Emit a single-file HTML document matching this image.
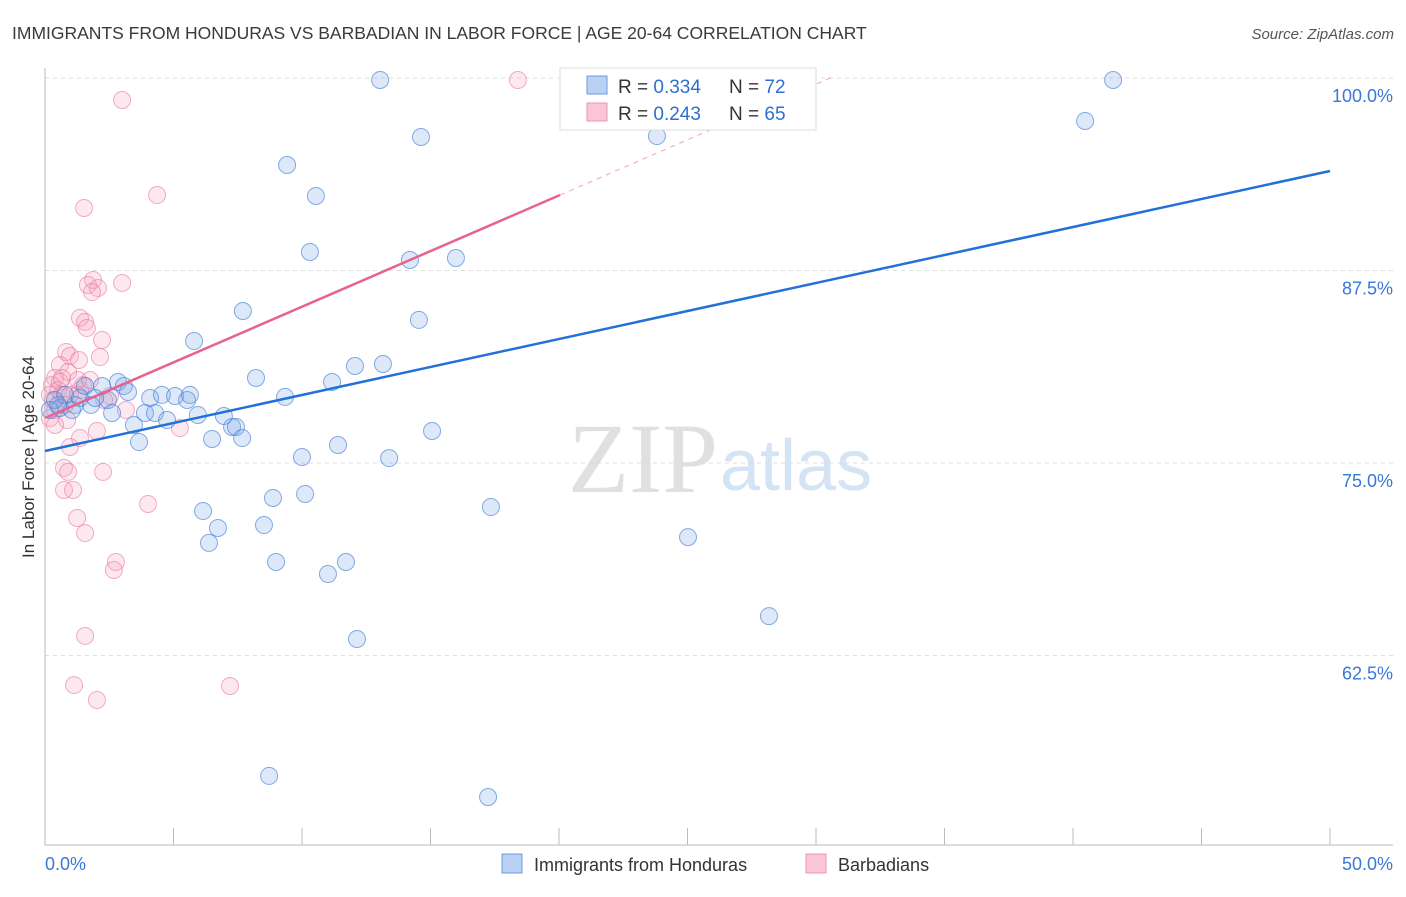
<!DOCTYPE html>
<html><head><meta charset="utf-8"><style>
body{margin:0;background:#fff;font-family:"Liberation Sans",sans-serif;}
svg text{font-family:"Liberation Sans",sans-serif;}
</style></head><body>
<svg id="chart" width="1406" height="892">
<text x="12" y="39" font-size="17.5" fill="#3a3a3a">IMMIGRANTS FROM HONDURAS VS BARBADIAN IN LABOR FORCE | AGE 20-64 CORRELATION CHART</text>
<text x="1394" y="39" font-size="15" fill="#555" text-anchor="end" font-style="italic">Source: ZipAtlas.com</text>
<text x="0" y="0" transform="translate(34,457) rotate(-90)" font-size="17" fill="#333" text-anchor="middle">In Labor Force | Age 20-64</text>
<text x="718" y="492" font-size="100" fill="#e0e0e0" text-anchor="end" style="font-family:'Liberation Serif',serif">ZIP</text>
<text x="720" y="490" font-size="72" fill="#d5e4f5">atlas</text>
<g id="grid"></g><g id="axes"></g><g id="pts"></g><g id="lines"></g>
<g>
<rect x="560" y="68" width="256" height="62" fill="#fff" stroke="#ddd"/>
<rect x="587" y="76" width="20" height="18" fill="#b9d1f3" stroke="#6d9be0"/>
<rect x="587" y="103" width="20" height="18" fill="#fac5d5" stroke="#ee93b0"/>
<text x="618" y="93" font-size="19" fill="#333">R = <tspan fill="#2f6fd0">0.334</tspan></text>
<text x="729" y="93" font-size="19" fill="#333">N = <tspan fill="#2f6fd0">72</tspan></text>
<text x="618" y="120" font-size="19" fill="#333">R = <tspan fill="#2f6fd0">0.243</tspan></text>
<text x="729" y="120" font-size="19" fill="#333">N = <tspan fill="#2f6fd0">65</tspan></text>
</g>
<g>
<rect x="502" y="854" width="20" height="19" fill="#b9d1f3" stroke="#6d9be0"/>
<text x="534" y="871" font-size="18" fill="#333">Immigrants from Honduras</text>
<rect x="806" y="854" width="20" height="19" fill="#fac5d5" stroke="#ee93b0"/>
<text x="838" y="871" font-size="18" fill="#333">Barbadians</text>
</g>
</svg>
<script>
const yTicks=[62.5,75,87.5,100];
const yTickLabels=["62.5%","75.0%","87.5%","100.0%"];
const xTickLabels=["0.0%","50.0%"];
const blueX=[13.04,25.49,41.56,40.47,14.63,9.42,10.54,10.31,14.20,15.99,7.70,14.55,5.80,12.06,13.15,8.21,11.17,2.84,2.22,3.07,1.56,4.09,4.55,5.06,5.53,9.34,3.23,2.45,1.79,1.17,0.58,0.39,2.61,3.89,4.28,4.75,5.95,6.96,3.46,7.28,7.43,15.06,3.66,6.50,7.67,11.40,10.00,13.39,17.35,8.87,10.12,6.15,8.52,6.73,6.38,25.02,8.99,11.01,11.71,28.17,12.14,8.72,17.24,23.81,27.35,0.19,0.78,1.95,1.36,1.05,5.64,0.51];
const blueY=[99.87,99.87,99.87,97.21,96.17,94.35,92.34,88.70,88.18,88.31,84.87,84.29,82.92,81.30,81.43,80.52,80.26,80.26,80.00,80.00,80.00,79.22,79.42,79.35,79.09,79.29,79.61,79.09,78.77,78.77,78.57,79.09,78.25,78.25,78.25,77.79,78.12,78.05,77.47,77.34,77.34,77.08,76.36,76.56,76.62,76.17,75.39,75.32,72.14,72.73,72.99,71.88,70.97,70.78,69.81,70.19,68.57,67.79,68.57,65.06,63.57,54.68,53.31,96.23,97.99,78.44,79.42,79.22,79.22,78.44,79.42,78.77];
const pinkX=[18.40,3.00,4.36,1.52,1.87,1.67,2.06,1.83,3.00,1.36,1.56,1.63,2.22,0.82,0.97,2.14,1.32,0.58,0.90,0.39,0.58,0.27,0.51,0.19,0.31,0.66,0.97,1.36,1.48,1.28,0.78,0.39,0.19,0.86,0.39,2.53,3.15,2.30,2.02,1.36,0.97,5.25,0.74,0.90,2.26,0.74,1.09,4.01,1.25,1.56,2.76,2.68,1.56,1.13,2.02,7.20,1.28,0.66,1.75];
const pinkY=[99.87,98.57,92.40,91.56,86.88,86.56,86.36,86.10,86.69,84.42,84.16,83.77,82.99,82.21,81.95,81.88,81.69,81.36,80.91,80.52,80.26,80.06,79.74,79.42,79.09,79.42,79.42,79.74,80.06,79.42,78.77,78.44,77.92,77.79,77.47,79.35,78.44,79.09,77.08,76.62,76.04,77.27,74.68,74.42,74.42,73.25,73.25,72.34,71.43,70.45,68.57,68.05,63.77,60.58,59.61,60.52,80.39,80.52,80.39];
const trendIntercept=[75.78,77.92];
const trendSlope=[0.3636,0.7226];
const trendSolidEnd=[50,20.04];
const trendDashEnd=[50,30.6];
const NS="http://www.w3.org/2000/svg";
const xs=v=>45+v*25.7, ys=v=>78+(100-v)*15.4;
function mk(t,a,p){const e=document.createElementNS(NS,t);for(const k in a)e.setAttribute(k,a[k]);p.appendChild(e);return e;}
const grid=document.getElementById('grid'),axes=document.getElementById('axes'),pts=document.getElementById('pts'),lines=document.getElementById('lines');
yTicks.forEach((t,i)=>{
 const l=mk('line',{x1:45,x2:1393,y1:ys(t),y2:ys(t),stroke:'#ddd','stroke-dasharray':'4,4'},grid);
 
 
 const tx=mk('text',{x:1393,y:ys(t)+24,'font-size':18,fill:'#3a78d6','text-anchor':'end'},axes);
 tx.textContent=yTickLabels[i];
 
 
});
const ax=mk('path',{d:'M45,68V845H1393',stroke:'#bbb',fill:'none'},axes);


for(let i=0;i<=10;i++){const t=mk('line',{x1:xs(i*5),x2:xs(i*5),y1:828,y2:845,stroke:'#bbb'},axes);
 
 }
[[0,'start',45],[50,'end',1393]].forEach((d,i)=>{const t=mk('text',{x:d[2],y:870,'font-size':18,fill:'#3a78d6','text-anchor':d[1]},axes);t.textContent=xTickLabels[i];
 
 });
function dots(X,Y,fill,stroke,name){X.forEach((x,i)=>{const c=mk('circle',{cx:xs(x),cy:ys(Y[i]),r:8.5,fill:fill,stroke:stroke,'stroke-width':1},pts);
 
 });}
dots(pinkX,pinkY,'rgba(246,165,192,0.25)','rgba(232,120,158,0.6)','barbadian-point');
dots(blueX,blueY,'rgba(120,168,232,0.25)','rgba(70,128,215,0.65)','honduras-point');
const cols=['#2270d8','#e8628e'],names=['honduras-trendline','barbadian-trendline'];
[0,1].forEach(k=>{const f=x=>trendIntercept[k]+trendSlope[k]*x;
 const l=mk('line',{x1:xs(0),y1:ys(f(0)),x2:xs(trendSolidEnd[k]),y2:ys(f(trendSolidEnd[k])),stroke:cols[k],'stroke-width':2.5},lines);
 
 
 if(trendDashEnd[k]>trendSolidEnd[k]){const d=mk('line',{x1:xs(trendSolidEnd[k]),y1:ys(f(trendSolidEnd[k])),x2:xs(trendDashEnd[k]),y2:ys(f(trendDashEnd[k])),stroke:cols[k],'stroke-width':1,'stroke-dasharray':'5,5',opacity:0.6},lines);
 
 }
});
</script>
</body></html>
